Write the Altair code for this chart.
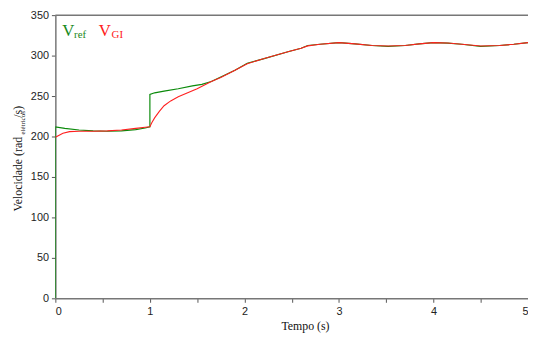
import altair as alt
import pandas as pd

# Reference speed (green)
t_ref = [0, 0, 0.1, 0.25, 0.4, 0.55, 0.7, 0.85, 0.95, 1.0, 1.0, 1.05, 1.15, 1.3, 1.45, 1.55, 1.65,
         1.75, 1.9, 2.03, 2.2, 2.47, 2.6, 2.67, 2.8, 3.0, 3.17, 3.35, 3.52, 3.7, 3.85, 4.0,
         4.15, 4.3, 4.5, 4.7, 4.85, 5.0]
v_ref = [0, 212, 210, 208, 207, 206.5, 207, 208.5, 210.5, 212, 252, 254, 256, 259, 262.5, 264.5, 268,
         273.5, 282, 290.5, 296, 305, 309, 312.5, 314, 316, 314.5, 312.5, 311.5, 312.5, 314.5, 316,
         315.5, 314, 311.5, 312.5, 314, 316]

# Induction generator speed (red)
t_gi = [0, 0.03, 0.08, 0.15, 0.25, 0.4, 0.55, 0.7, 0.85, 0.95, 1.0, 1.02, 1.05, 1.1, 1.15, 1.22,
        1.3, 1.4, 1.5, 1.65, 1.75, 1.9, 2.03, 2.2, 2.47, 2.6, 2.67, 2.8, 3.0, 3.17, 3.35, 3.52,
        3.7, 3.85, 4.0, 4.15, 4.3, 4.5, 4.7, 4.85, 5.0]
v_gi = [199, 201, 204, 206, 206.5, 206.5, 207, 208, 210, 211.5, 212, 217, 223, 231, 238, 244,
        249, 254, 259, 268, 273, 282, 290, 296, 305, 309, 312, 314, 316, 314.5, 312.5, 311.8,
        312.5, 314.5, 316, 315.5, 314, 311.8, 312.5, 314, 316]

x_ticks = [0, 0.5, 1, 1.5, 2, 2.5, 3, 3.5, 4, 4.5, 5]
y_ticks = [0, 50, 100, 150, 200, 250, 300, 350]

df_ref = pd.DataFrame({"t": t_ref, "v": v_ref, "i": list(range(len(t_ref)))})
df_gi = pd.DataFrame({"t": t_gi, "v": v_gi, "i": list(range(len(t_gi)))})

SERIF = "Liberation Serif, Times New Roman, serif"
SANS = "Liberation Sans, Arial, sans-serif"

W, H = 479, 287
xs = alt.Scale(domain=[0, 5], nice=False, zero=False)
ys = alt.Scale(domain=[0, 350], nice=False)

x_axis = alt.Axis(values=x_ticks,
                  labelExpr="datum.value % 1 == 0 ? format(datum.value, 'd') : ''",
                  title="Tempo (s)", titleFont=SERIF, titleFontWeight="normal",
                  titleFontSize=12, titleColor="#111", titlePadding=5, titleX=253)
y_axis = alt.Axis(values=y_ticks, title=None)

base_ref = alt.Chart(df_ref).mark_line(color="#0a8a0a", strokeWidth=1.2, clip=True).encode(
    x=alt.X("t:Q", scale=xs, axis=x_axis),
    y=alt.Y("v:Q", scale=ys, axis=y_axis),
    order="i:Q",
)
line_gi = alt.Chart(df_gi).mark_line(color="#ff2020", strokeWidth=1.1, clip=True).encode(
    x=alt.X("t:Q", scale=xs), y=alt.Y("v:Q", scale=ys), order="i:Q"
)

top_rule = alt.Chart(pd.DataFrame({"a": [0]})).mark_rule(color="#777", strokeWidth=1.5).encode(
    x=alt.value(0), x2=alt.value(W), y=alt.value(0)
)

def txt(s, x, y, size, color, angle=0, font=SERIF):
    return alt.Chart(pd.DataFrame({"s": [s]})).mark_text(
        text=s, font=font, fontSize=size, color=color, align="left", baseline="alphabetic",
        angle=angle, fontWeight="normal"
    ).encode(x=alt.value(x), y=alt.value(y))

legend = (
    txt("V", 7, 21, 17, "#1a8a1a")
    + txt("ref", 19, 23, 11, "#1a8a1a")
    + txt("V", 44, 21, 17, "#ff2020")
    + txt("GI", 57, 23, 11, "#ff2020")
)

ytitle = (
    txt("Velocidade (rad", -34, 199, 12, "#111", angle=270)
    + txt("elétricos", -31, 121, 7, "#111", angle=270)
    + txt("/s)", -34, 104, 12, "#111", angle=270)
)

chart = alt.layer(base_ref, line_gi, top_rule, legend, ytitle).properties(
    width=W, height=H,
    autosize=alt.AutoSizeParams(type="none"),
    padding={"left": 48, "top": 5, "right": 0, "bottom": 40},
).configure_view(stroke=None).configure_axis(
    grid=False, domainColor="#777", domainWidth=1.5, tickColor="#555", tickSize=4,
    labelFont=SANS, labelFontSize=11, labelColor="#222", labelPadding=3,
)

chart.save("out.html", embed_options={"renderer": "svg", "actions": False})
